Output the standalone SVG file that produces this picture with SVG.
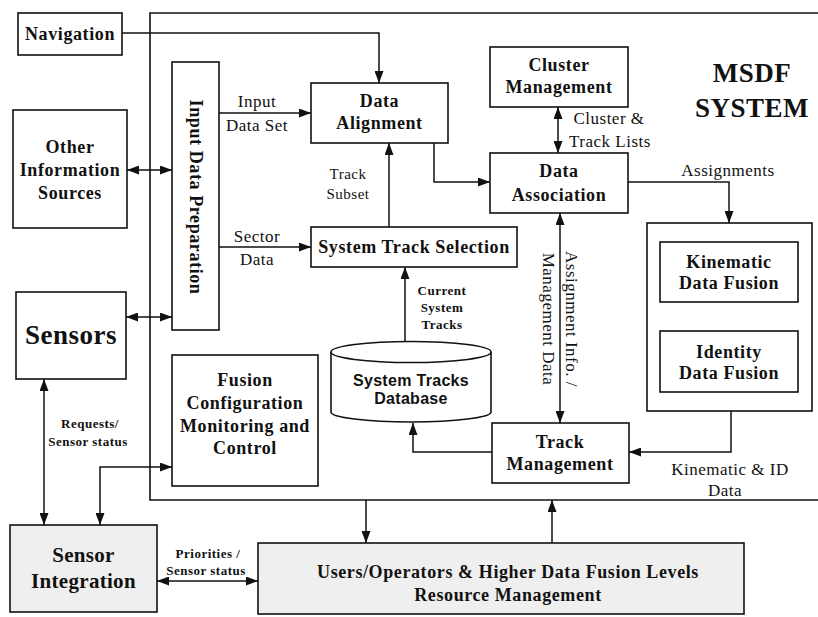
<svg xmlns="http://www.w3.org/2000/svg" width="818" height="617" viewBox="0 0 818 617">
<defs>
<style>
.box{fill:#fff;stroke:#111;stroke-width:1.6}
.gray{fill:#efefef}
.frame{fill:none;stroke:#111;stroke-width:1.6}
.conn{fill:none;stroke:#111;stroke-width:1.5}
.t{font-family:"Liberation Serif","Times New Roman",serif;font-weight:bold;font-size:18px;letter-spacing:0.6px;text-anchor:middle;fill:#111}
.l{font-family:"Liberation Serif","Times New Roman",serif;font-size:17px;letter-spacing:0.5px;text-anchor:middle;fill:#111}
.s{font-family:"Liberation Serif","Times New Roman",serif;font-weight:bold;font-size:13px;letter-spacing:0.5px;text-anchor:middle;fill:#111}
.db{font-family:"Liberation Sans",Arial,sans-serif;font-weight:bold;font-size:16px;letter-spacing:0.3px;text-anchor:middle;fill:#111}
</style>
<marker id="ah" markerUnits="userSpaceOnUse" markerWidth="12" markerHeight="9" refX="12" refY="4.5" orient="auto-start-reverse"><path d="M0,0 L12,4.5 L0,9 z" fill="#111"/></marker>
<marker id="ahs" markerUnits="userSpaceOnUse" markerWidth="7" markerHeight="6" refX="7" refY="3" orient="auto-start-reverse"><path d="M0,0 L7,3 L0,6 z" fill="#111"/></marker>
</defs>
<rect width="818" height="617" fill="#fff"/>

<g id="msdf-system">
<path class="frame" d="M820,13 H150 V500 H820"/>
<text class="t" style="font-size:27px;letter-spacing:0.5px" x="752" y="82">MSDF</text>
<text class="t" style="font-size:27px;letter-spacing:0.5px" x="752" y="117">SYSTEM</text>
</g>

<g id="connectors">
<path class="conn" d="M122,33 H379 V83" marker-end="url(#ah)"/>
<path class="conn" d="M127,170 H172" marker-start="url(#ah)" marker-end="url(#ah)"/>
<path class="conn" d="M126,317 H172" marker-start="url(#ah)" marker-end="url(#ah)"/>
<path class="conn" d="M219,113 H311" marker-end="url(#ah)"/>
<path class="conn" d="M219,247 H311" marker-end="url(#ah)"/>
<path class="conn" d="M389,227 V143" marker-end="url(#ah)"/>
<path class="conn" d="M434,143 V182 H490" marker-end="url(#ah)"/>
<path class="conn" d="M558,107 V153" marker-start="url(#ah)" marker-end="url(#ah)"/>
<path class="conn" d="M628,182 H729 V223" marker-end="url(#ah)"/>
<path class="conn" d="M729,302 V331" marker-start="url(#ahs)" marker-end="url(#ahs)"/>
<path class="conn" d="M731,411 V452 H629" marker-end="url(#ah)"/>
<path class="conn" d="M560,213 V423" marker-start="url(#ah)" marker-end="url(#ah)"/>
<path class="conn" d="M492,452 H413 V423" marker-end="url(#ah)"/>
<path class="conn" d="M405,342 V267" marker-end="url(#ah)"/>
<path class="conn" d="M44,379 V525" marker-start="url(#ah)" marker-end="url(#ah)"/>
<path class="conn" d="M100,525 V467 H172" marker-start="url(#ah)" marker-end="url(#ah)"/>
<path class="conn" d="M157,581 H258" marker-start="url(#ah)" marker-end="url(#ah)"/>
<path class="conn" d="M366,500 V543" marker-end="url(#ah)"/>
<path class="conn" d="M552,543 V500" marker-end="url(#ah)"/>
<text class="l" x="257" y="107">Input</text>
<text class="l" x="257" y="131">Data Set</text>
<text class="l" x="257" y="242">Sector</text>
<text class="l" x="257" y="265">Data</text>
<text class="l" style="font-size:15px" x="348" y="179">Track</text>
<text class="l" style="font-size:15px" x="348" y="199">Subset</text>
<text class="l" x="609" y="124">Cluster &amp;</text>
<text class="l" x="610" y="147">Track Lists</text>
<text class="l" x="728" y="176">Assignments</text>
<text class="s" x="442" y="295">Current</text>
<text class="s" x="442" y="312">System</text>
<text class="s" x="442" y="329">Tracks</text>
<g transform="translate(560,319) rotate(90)">
<text class="l" x="0" y="-5.5">Assignment Info. /</text>
<text class="l" x="0" y="17.5">Management Data</text>
</g>
<text class="l" x="730" y="475">Kinematic &amp; ID</text>
<text class="l" x="725" y="496">Data</text>
<text class="s" x="90" y="428">Requests/</text>
<text class="s" x="88" y="446">Sensor status</text>
<text class="s" x="208" y="558">Priorities /</text>
<text class="s" x="206" y="575">Sensor status</text>
</g>

<g id="navigation">
<rect class="box" x="18" y="13" width="104" height="42"/>
<text class="t" x="70" y="40">Navigation</text>
</g>

<g id="other-information-sources">
<rect class="box" x="13" y="110" width="114" height="118"/>
<text class="t" x="70" y="153">Other</text>
<text class="t" x="70" y="176">Information</text>
<text class="t" x="70" y="199">Sources</text>
</g>

<g id="sensors">
<rect class="box" x="16" y="292" width="110" height="87"/>
<text class="t" style="font-size:27px;letter-spacing:0.5px" x="71" y="344">Sensors</text>
</g>

<g id="input-data-preparation">
<rect class="box" x="172" y="62" width="47" height="268"/>
<text class="t" transform="translate(195.5,197) rotate(90)" x="0" y="6">Input Data Preparation</text>
</g>

<g id="data-alignment">
<rect class="box" x="311" y="83" width="137" height="60"/>
<text class="t" x="379.5" y="107">Data</text>
<text class="t" x="379.5" y="129">Alignment</text>
</g>

<g id="cluster-management">
<rect class="box" x="490" y="47" width="138" height="60"/>
<text class="t" x="559" y="71">Cluster</text>
<text class="t" x="559" y="93">Management</text>
</g>

<g id="data-association">
<rect class="box" x="490" y="153" width="138" height="60"/>
<text class="t" x="559" y="177">Data</text>
<text class="t" x="559" y="201">Association</text>
</g>

<g id="system-track-selection">
<rect class="box" x="311" y="227" width="206" height="40"/>
<text class="t" x="414" y="253">System Track Selection</text>
</g>

<g id="system-tracks-database">
<path class="box" d="M331,352 V412 A80,10 0 0 0 491,412 V352"/>
<ellipse class="box" cx="411" cy="352" rx="80" ry="10.5"/>
<text class="db" x="411" y="386">System Tracks</text>
<text class="db" x="411" y="404">Database</text>
</g>

<g id="fusion-group">
<rect class="box" x="647" y="223" width="165" height="188"/>
</g>

<g id="kinematic-data-fusion">
<rect class="box" x="660" y="242" width="138" height="60"/>
<text class="t" x="729" y="268">Kinematic</text>
<text class="t" x="729" y="289">Data Fusion</text>
</g>

<g id="identity-data-fusion">
<rect class="box" x="660" y="331" width="138" height="61"/>
<text class="t" x="729" y="358">Identity</text>
<text class="t" x="729" y="379">Data Fusion</text>
</g>

<g id="track-management">
<rect class="box" x="492" y="423" width="137" height="60"/>
<text class="t" x="560" y="448">Track</text>
<text class="t" x="560" y="470">Management</text>
</g>

<g id="fusion-configuration">
<rect class="box" x="172" y="355" width="146" height="131"/>
<text class="t" x="245" y="386">Fusion</text>
<text class="t" x="245" y="409">Configuration</text>
<text class="t" x="245" y="432">Monitoring and</text>
<text class="t" x="245" y="454">Control</text>
</g>

<g id="sensor-integration">
<rect class="box gray" x="10" y="525" width="147" height="87"/>
<text class="t" style="font-size:21px;letter-spacing:0.3px" x="83.5" y="562">Sensor</text>
<text class="t" style="font-size:21px;letter-spacing:0.3px" x="83.5" y="588">Integration</text>
</g>

<g id="users-operators">
<rect class="box gray" x="258" y="543" width="486" height="71"/>
<text class="t" x="508" y="578">Users/Operators &amp; Higher Data Fusion Levels</text>
<text class="t" x="508" y="601">Resource Management</text>
</g>
</svg>
